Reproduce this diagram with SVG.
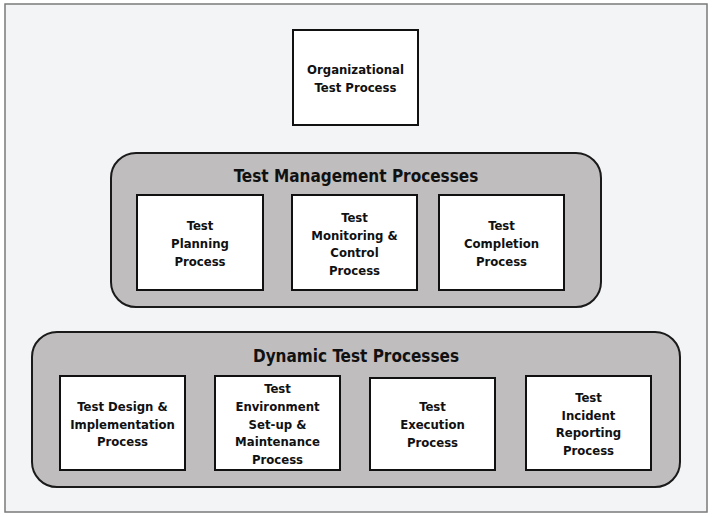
<svg xmlns="http://www.w3.org/2000/svg" width="712" height="517" viewBox="0 0 712 517">
<style>
.frame{fill:#f3f4f6;stroke:#7a7a7a;stroke-width:1.5}
.cont{fill:#c0bdbe;stroke:#1a1a1a;stroke-width:2}
.box{fill:#ffffff;stroke:#111;stroke-width:2}
text{font-family:"DejaVu Sans Condensed","DejaVu Sans",sans-serif;font-weight:bold;fill:#111;text-anchor:middle}
.t{font-size:13px}
.h{font-size:17px}
</style>
<rect class="frame" x="5" y="4" width="702" height="508"/>
<g id="org">
<rect class="box" x="293" y="30" width="125" height="95"/>
<text class="t" x="355.5" y="74">Organizational</text>
<text class="t" x="355.5" y="92">Test Process</text>
</g>
<g id="test-management">
<rect class="cont" x="111" y="153" width="490" height="154" rx="25"/>
<text class="h" x="356" y="182">Test Management Processes</text>
</g>
<g id="planning">
<rect class="box" x="137" y="195" width="126" height="95"/>
<text class="t" x="200" y="230">Test</text>
<text class="t" x="200" y="248">Planning</text>
<text class="t" x="200" y="266">Process</text>
</g>
<g id="monitoring">
<rect class="box" x="292" y="195" width="125" height="95"/>
<text class="t" x="354.5" y="222">Test</text>
<text class="t" x="354.5" y="239.5">Monitoring &amp;</text>
<text class="t" x="354.5" y="257">Control</text>
<text class="t" x="354.5" y="274.5">Process</text>
</g>
<g id="completion">
<rect class="box" x="439" y="195" width="125" height="95"/>
<text class="t" x="501.5" y="230">Test</text>
<text class="t" x="501.5" y="248">Completion</text>
<text class="t" x="501.5" y="266">Process</text>
</g>
<g id="dynamic">
<rect class="cont" x="32" y="332" width="648" height="155" rx="25"/>
<text class="h" x="356" y="362">Dynamic Test Processes</text>
</g>
<g id="design">
<rect class="box" x="60" y="376" width="125" height="94"/>
<text class="t" x="122.5" y="411">Test Design &amp;</text>
<text class="t" x="122.5" y="428.5">Implementation</text>
<text class="t" x="122.5" y="446">Process</text>
</g>
<g id="environment">
<rect class="box" x="215" y="376" width="125" height="94"/>
<text class="t" x="277.5" y="393">Test</text>
<text class="t" x="277.5" y="411">Environment</text>
<text class="t" x="277.5" y="428.5">Set-up &amp;</text>
<text class="t" x="277.5" y="446">Maintenance</text>
<text class="t" x="277.5" y="464">Process</text>
</g>
<g id="execution">
<rect class="box" x="370" y="378" width="125" height="92"/>
<text class="t" x="432.5" y="411">Test</text>
<text class="t" x="432.5" y="429">Execution</text>
<text class="t" x="432.5" y="447">Process</text>
</g>
<g id="incident">
<rect class="box" x="526" y="376" width="125" height="94"/>
<text class="t" x="588.5" y="402">Test</text>
<text class="t" x="588.5" y="419.5">Incident</text>
<text class="t" x="588.5" y="437">Reporting</text>
<text class="t" x="588.5" y="455">Process</text>
</g>
<g id="connectors"/>
</svg>
